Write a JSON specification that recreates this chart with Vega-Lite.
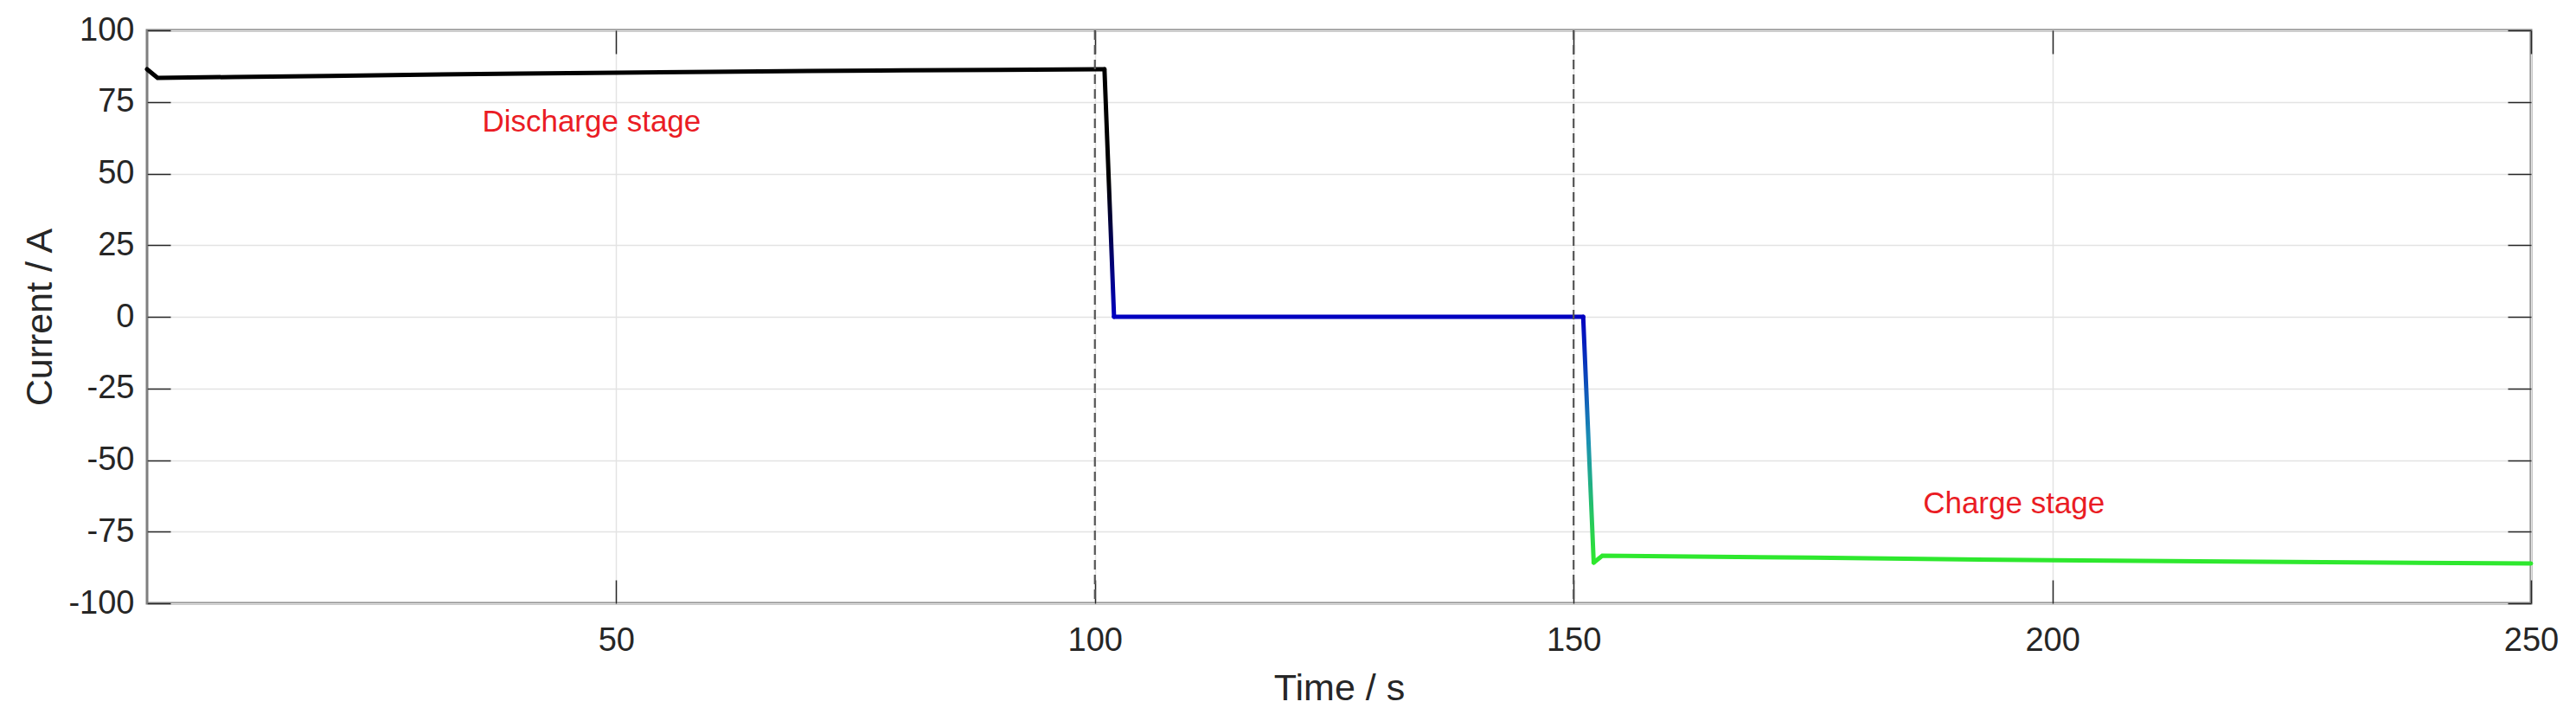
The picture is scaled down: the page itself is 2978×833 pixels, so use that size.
{
  "$schema": "https://vega.github.io/schema/vega-lite/v6.json",
  "width": 2756,
  "height": 662,
  "autosize": {"type": "none"},
  "padding": {"left": 170, "top": 35, "right": 52, "bottom": 136},
  "background": "white",
  "config": {
    "view": {"stroke": "#7f7f7f", "strokeWidth": 3},
    "axis": {
      "labelFont": "Liberation Sans", "titleFont": "Liberation Sans",
      "labelFontSize": 38, "titleFontSize": 43,
      "labelColor": "#262626", "titleColor": "#262626", "titleFontWeight": "normal",
      "domain": false, "tickColor": "#262626", "tickWidth": 1.5, "tickSize": -27,
      "gridColor": "#e3e3e3", "gridWidth": 1.5, "labelFlush": false, "labelOverlap": false,
      "labelExpr": "'' + datum.value"
    }
  },
  "datasets": {
    "curve": [
      {"t": 1, "i": 86.4, "seg": "d"}, {"t": 2.1, "i": 83.4, "seg": "d"}, {"t": 10, "i": 83.7, "seg": "d"},
      {"t": 20, "i": 84.1, "seg": "d"}, {"t": 30, "i": 84.5, "seg": "d"}, {"t": 40, "i": 84.9, "seg": "d"},
      {"t": 50, "i": 85.2, "seg": "d"}, {"t": 60, "i": 85.5, "seg": "d"}, {"t": 70, "i": 85.8, "seg": "d"},
      {"t": 80, "i": 86.0, "seg": "d"}, {"t": 90, "i": 86.2, "seg": "d"}, {"t": 101, "i": 86.4, "seg": "d"},
      {"t": 101, "i": 86.4, "seg": "dr"}, {"t": 102, "i": 0, "seg": "dr"},
      {"t": 102, "i": 0, "seg": "r"}, {"t": 151, "i": 0, "seg": "r"},
      {"t": 151, "i": 0, "seg": "cr"}, {"t": 152.1, "i": -85.8, "seg": "cr"},
      {"t": 152.1, "i": -85.8, "seg": "c"}, {"t": 153, "i": -83.4, "seg": "c"}, {"t": 160, "i": -83.6, "seg": "c"},
      {"t": 175, "i": -84.1, "seg": "c"}, {"t": 200, "i": -85.0, "seg": "c"}, {"t": 225, "i": -85.6, "seg": "c"},
      {"t": 250, "i": -86.1, "seg": "c"}
    ],
    "marks": [{"t": 100}, {"t": 150}],
    "labels": [
      {"t": 36, "i": 64.7, "label": "Discharge stage"},
      {"t": 186.5, "i": -68.6, "label": "Charge stage"}
    ]
  },
  "resolve": {"axis": {"x": "independent", "y": "independent"}},
  "layer": [
    {
      "data": {"name": "curve"},
      "transform": [{"filter": "datum.seg == 'd'"}],
      "mark": {"type": "line", "color": "#000000", "strokeWidth": 5, "strokeCap": "round"},
      "encoding": {
        "x": {"field": "t", "type": "quantitative", "scale": {"domain": [1, 250], "nice": false, "zero": false},
          "axis": {"orient": "bottom", "values": [50, 100, 150, 200, 250], "title": "Time / s", "labelPadding": 51, "titleY": 111, "titleBaseline": "alphabetic"}},
        "y": {"field": "i", "type": "quantitative", "scale": {"domain": [-100, 100], "nice": false, "zero": false},
          "axis": {"orient": "left", "values": [-100, -75, -50, -25, 0, 25, 50, 75, 100], "title": "Current / A", "labelPadding": 42, "titleX": -124, "titleY": 331, "titleBaseline": "middle", "titleAngle": -90}}
      }
    },
    {
      "data": {"name": "curve"},
      "transform": [{"filter": "datum.seg == 'dr'"}],
      "mark": {"type": "line", "strokeWidth": 5, "strokeCap": "round",
        "color": {"gradient": "linear", "x1": 0, "y1": 0, "x2": 0, "y2": 1,
          "stops": [{"offset": 0, "color": "#000000"}, {"offset": 0.45, "color": "#000000"}, {"offset": 1, "color": "#0000c0"}]}},
      "encoding": {
        "x": {"field": "t", "type": "quantitative", "scale": {"domain": [1, 250], "nice": false, "zero": false}, "axis": null},
        "y": {"field": "i", "type": "quantitative", "scale": {"domain": [-100, 100], "nice": false, "zero": false}, "axis": null}
      }
    },
    {
      "data": {"name": "curve"},
      "transform": [{"filter": "datum.seg == 'r'"}],
      "mark": {"type": "line", "color": "#0000c0", "strokeWidth": 5, "strokeCap": "round"},
      "encoding": {
        "x": {"field": "t", "type": "quantitative", "scale": {"domain": [1, 250], "nice": false, "zero": false}, "axis": null},
        "y": {"field": "i", "type": "quantitative", "scale": {"domain": [-100, 100], "nice": false, "zero": false}, "axis": null}
      }
    },
    {
      "data": {"name": "curve"},
      "transform": [{"filter": "datum.seg == 'cr'"}],
      "mark": {"type": "line", "strokeWidth": 5, "strokeCap": "round",
        "color": {"gradient": "linear", "x1": 0, "y1": 0, "x2": 0, "y2": 1,
          "stops": [{"offset": 0, "color": "#0000c0"}, {"offset": 0.5, "color": "#1a8fb4"}, {"offset": 1, "color": "#2ee82e"}]}},
      "encoding": {
        "x": {"field": "t", "type": "quantitative", "scale": {"domain": [1, 250], "nice": false, "zero": false}, "axis": null},
        "y": {"field": "i", "type": "quantitative", "scale": {"domain": [-100, 100], "nice": false, "zero": false}, "axis": null}
      }
    },
    {
      "data": {"name": "curve"},
      "transform": [{"filter": "datum.seg == 'c'"}],
      "mark": {"type": "line", "color": "#2ee82e", "strokeWidth": 5, "strokeCap": "round"},
      "encoding": {
        "x": {"field": "t", "type": "quantitative", "scale": {"domain": [1, 250], "nice": false, "zero": false},
          "axis": {"orient": "top", "values": [50, 100, 150, 200, 250], "labels": false, "grid": false, "title": null}},
        "y": {"field": "i", "type": "quantitative", "scale": {"domain": [-100, 100], "nice": false, "zero": false},
          "axis": {"orient": "right", "values": [-100, -75, -50, -25, 0, 25, 50, 75, 100], "labels": false, "grid": false, "title": null}}
      }
    },
    {
      "data": {"name": "marks"},
      "mark": {"type": "rule", "color": "#555555", "strokeWidth": 2.2, "strokeDash": [11, 6]},
      "encoding": {
        "x": {"field": "t", "type": "quantitative", "scale": {"domain": [1, 250], "nice": false, "zero": false}, "axis": null}
      }
    },
    {
      "data": {"name": "labels"},
      "mark": {"type": "text", "color": "#ea1c24", "font": "Liberation Sans", "fontSize": 35, "align": "left", "baseline": "alphabetic"},
      "encoding": {
        "x": {"field": "t", "type": "quantitative", "scale": {"domain": [1, 250], "nice": false, "zero": false}, "axis": null},
        "y": {"field": "i", "type": "quantitative", "scale": {"domain": [-100, 100], "nice": false, "zero": false}, "axis": null},
        "text": {"field": "label"}
      }
    }
  ]
}
